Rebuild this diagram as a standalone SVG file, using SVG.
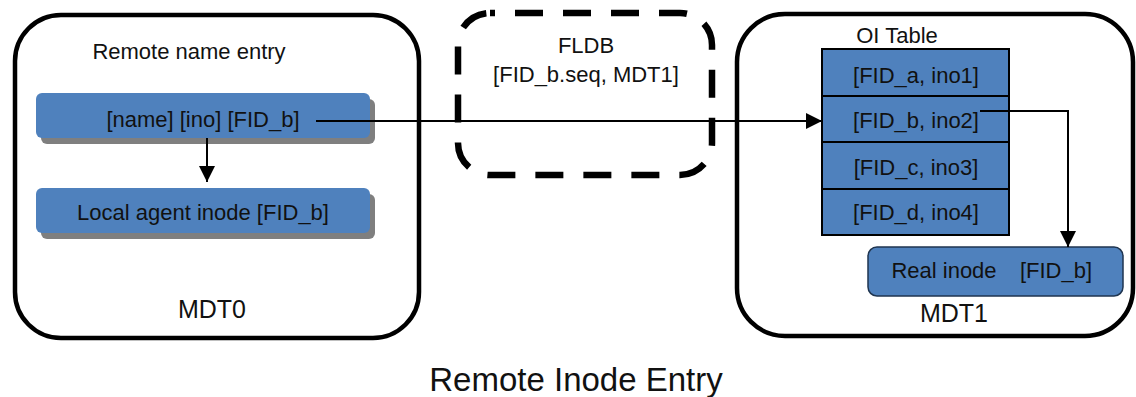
<svg xmlns="http://www.w3.org/2000/svg" width="1136" height="397" viewBox="0 0 1136 397">
  <style>
    text { font-family: "Liberation Sans", Arial, sans-serif; fill: #111; }
    .lbl { font-size: 22px; text-anchor: middle; }
    .big { font-size: 25px; text-anchor: middle; }
    .title { font-size: 33px; text-anchor: middle; }
    .host { fill: #fff; stroke: #000; stroke-width: 4.5; }
    .blue { fill: #4f81bd; }
    .shadow { fill: #7f7f7f; }
    .cell { fill: #4f81bd; stroke: #000; stroke-width: 2; }
    .wire { fill: none; stroke: #000; stroke-width: 2; }
  </style>
  <defs>
    <marker id="head" viewBox="0 0 16 16" refX="16" refY="8" markerWidth="16" markerHeight="16" markerUnits="userSpaceOnUse" orient="auto">
      <path d="M0,0 L16,8 L0,16 z" fill="#000"/>
    </marker>
  </defs>
  <rect width="1136" height="397" fill="#fff"/>

  <!-- MDT0 server -->
  <g id="mdt0">
    <rect class="host" x="15" y="15" width="404" height="323" rx="46"/>
    <text class="lbl" x="189" y="59">Remote name entry</text>
    <text class="big" x="212" y="318">MDT0</text>
  </g>
  <g id="name-entry">
    <rect class="shadow" x="41" y="99" width="334" height="45" rx="6"/>
    <rect class="blue" x="36" y="93" width="334" height="45" rx="6"/>
    <text class="lbl" x="203" y="127">[name] [ino] [FID_b]</text>
  </g>
  <g id="agent-inode">
    <rect class="shadow" x="41" y="194" width="334" height="45" rx="6"/>
    <rect class="blue" x="36" y="188" width="334" height="45" rx="6"/>
    <text class="lbl" x="203" y="220">Local agent inode [FID_b]</text>
  </g>

  <!-- FLDB -->
  <g id="fldb">
    <rect x="458" y="13" width="254" height="162" rx="32" fill="none" stroke="#000" stroke-width="6.5" stroke-dasharray="28 20" stroke-dashoffset="23"/>
    <text class="lbl" x="586" y="53">FLDB</text>
    <text class="lbl" x="586" y="82">[FID_b.seq, MDT1]</text>
  </g>

  <!-- MDT1 server -->
  <g id="mdt1">
    <rect class="host" x="737" y="14" width="396" height="322" rx="48"/>
    <text class="lbl" x="897" y="43">OI Table</text>
    <text class="big" x="954" y="322">MDT1</text>
  </g>
  <g id="oi-table">
    <rect class="cell" x="822" y="49" width="187" height="47"/>
    <rect class="cell" x="822" y="96" width="187" height="46"/>
    <rect class="cell" x="822" y="142" width="187" height="47"/>
    <rect class="cell" x="822" y="189" width="187" height="46"/>
    <text class="lbl" x="916" y="83">[FID_a, ino1]</text>
    <text class="lbl" x="916" y="128">[FID_b, ino2]</text>
    <text class="lbl" x="916" y="175">[FID_c, ino3]</text>
    <text class="lbl" x="916" y="220">[FID_d, ino4]</text>
  </g>
  <g id="real-inode">
    <rect x="868" y="247" width="255" height="49" rx="9" fill="#4f81bd" stroke="#1f3550" stroke-width="1.5"/>
    <text class="lbl" x="944" y="278">Real inode</text>
    <text class="lbl" x="1056" y="278">[FID_b]</text>
  </g>

  <!-- connectors -->
  <g id="connectors">
    <line class="wire" x1="207" y1="138" x2="207" y2="182" marker-end="url(#head)"/>
    <line class="wire" x1="316" y1="121" x2="822" y2="121" marker-end="url(#head)"/>
    <polyline class="wire" points="980,111 1068,111 1068,247" marker-end="url(#head)"/>
  </g>

  <text class="title" x="576" y="391">Remote Inode Entry</text>
</svg>
